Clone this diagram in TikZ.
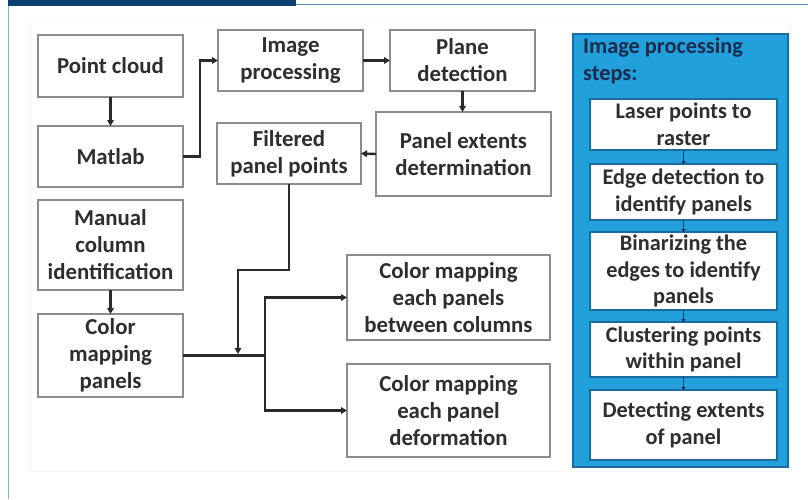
\documentclass[tikz,border=0pt]{standalone}
\usepackage{fontspec}
\setmainfont{Carlito}
\usetikzlibrary{arrows.meta,calc}
\definecolor{boxline}{HTML}{8C8C8C}
\definecolor{txt}{HTML}{2E2E2E}
\definecolor{wire}{HTML}{2A2A2A}
\definecolor{stepblue}{HTML}{22A0DC}
\definecolor{stepedge}{HTML}{1D6A9E}
\definecolor{navy}{HTML}{1A2C4E}
\definecolor{bannerdark}{HTML}{0C3F74}
\definecolor{bannerline}{HTML}{5C88B8}
\tikzset{
  x=1pt, y=-1pt,
  flowbox/.style={draw=boxline, line width=1.6pt, fill=white, text=txt,
    font=\fontsize{22.8}{27}\selectfont\bfseries, align=center,
    inner sep=0pt, outer sep=0pt},
  stepbox/.style={draw=stepedge, line width=1.4pt, fill=white, text=txt,
    font=\fontsize{22.3}{26.5}\selectfont\bfseries, align=center,
    inner sep=0pt, outer sep=0pt, minimum width=187pt},
  wireline/.style={draw=wire, line width=2.4pt},
  wirearrow/.style={wireline, -{Triangle[length=6pt,width=6.5pt]}},
  steparrow/.style={draw=navy, line width=1pt, -{Triangle[length=3pt,width=4pt]}},
}
\begin{document}
\begin{tikzpicture}
\useasboundingbox (0,0) rectangle (808,499);
\fill[white] (0,0) rectangle (808,499);

% page frame and heading bar
\draw[bannerline!70, line width=1.6pt] (8.5,0) -- (8.5,499);
\draw[bannerline, line width=1pt] (8,4.5) -- (808,4.5);
\fill[bannerdark] (8,0) rectangle (296,5.5);
\draw[black!4, line width=0.8pt] (30,20) rectangle (790,471);

% main flow boxes
\node[flowbox, minimum width=145pt, minimum height=62pt] (pc) at (110.5,66) {Point cloud};
\node[flowbox, minimum width=145pt, minimum height=61pt] (matlab) at (110.5,156.5) {Matlab};
\node[flowbox, minimum width=145pt, minimum height=61pt] (imgp) at (290.5,60.5) {Image\\processing};
\node[flowbox, minimum width=145pt, minimum height=61pt] (plane) at (462.5,60.5) {Plane\\detection};
\node[flowbox, minimum width=144pt, minimum height=61pt] (filt) at (289,153.5) {Filtered\\panel points};
\node[flowbox, minimum width=175pt, minimum height=84pt] (ext) at (463.5,154) {Panel extents\\determination};
\node[flowbox, minimum width=145pt, minimum height=90pt] (manual) at (110.5,245) {Manual\\column\\identification};
\node[flowbox, minimum width=145pt, minimum height=83pt] (cmp) at (110.5,355.5) {Color\\mapping\\panels};
\node[flowbox, minimum width=203pt, minimum height=85pt] (cmb) at (448.5,297.5) {Color mapping\\each panels\\between columns};
\node[flowbox, minimum width=203pt, minimum height=93pt] (cmd) at (448.5,410.5) {Color mapping\\each panel\\deformation};

% image processing steps panel
\node[draw=stepedge, line width=1.6pt, fill=stepblue, minimum width=215pt,
      minimum height=433pt, inner sep=0pt] (panel) at (680.5,250.5) {};
\node[anchor=north west, text=navy, font=\fontsize{22.3}{26.5}\selectfont\bfseries,
      align=left, inner sep=0pt] (ptitle) at (583,38) {Image processing\\steps:};
\node[stepbox, minimum height=51pt] (s1) at (683.5,124.5) {Laser points to\\raster};
\node[stepbox, minimum height=56pt] (s2) at (683.5,192) {Edge detection to\\identify panels};
\node[stepbox, minimum height=78pt] (s3) at (683.5,271) {Binarizing the\\edges to identify\\panels};
\node[stepbox, minimum height=55pt] (s4) at (683.5,349.5) {Clustering points\\within panel};
\node[stepbox, minimum height=70pt] (s5) at (683.5,425) {Detecting extents\\of panel};
\draw[steparrow] (s1.south) -- (s2.north);
\draw[steparrow] (s2.south) -- (s3.north);
\draw[steparrow] (s3.south) -- (s4.north);
\draw[steparrow] (s4.south) -- (s5.north);

% connectors
\draw[wirearrow] (pc.south) -- (matlab.north);
\draw[wirearrow] (matlab.east) -- ++(17,0) |- (imgp.west);
\draw[wirearrow] (imgp.east) -- (plane.west);
\draw[wirearrow] (plane.south) -- (plane.south |- ext.north);
\draw[wirearrow] (ext.west) -- (filt.east);
\draw[wirearrow] (manual.south) -- (cmp.north);
\coordinate (split) at (265,355.5);
\coordinate (join) at (238,355.5);
\draw[wireline] (cmp.east) -- (split);
\draw[wirearrow] (filt.south) -- ++(0,86) -| ($(join)+(0,-1.5)$);
\draw[wirearrow] (split) |- (cmb.west);
\draw[wirearrow] (split) |- (cmd.west);
\end{tikzpicture}
\end{document}
